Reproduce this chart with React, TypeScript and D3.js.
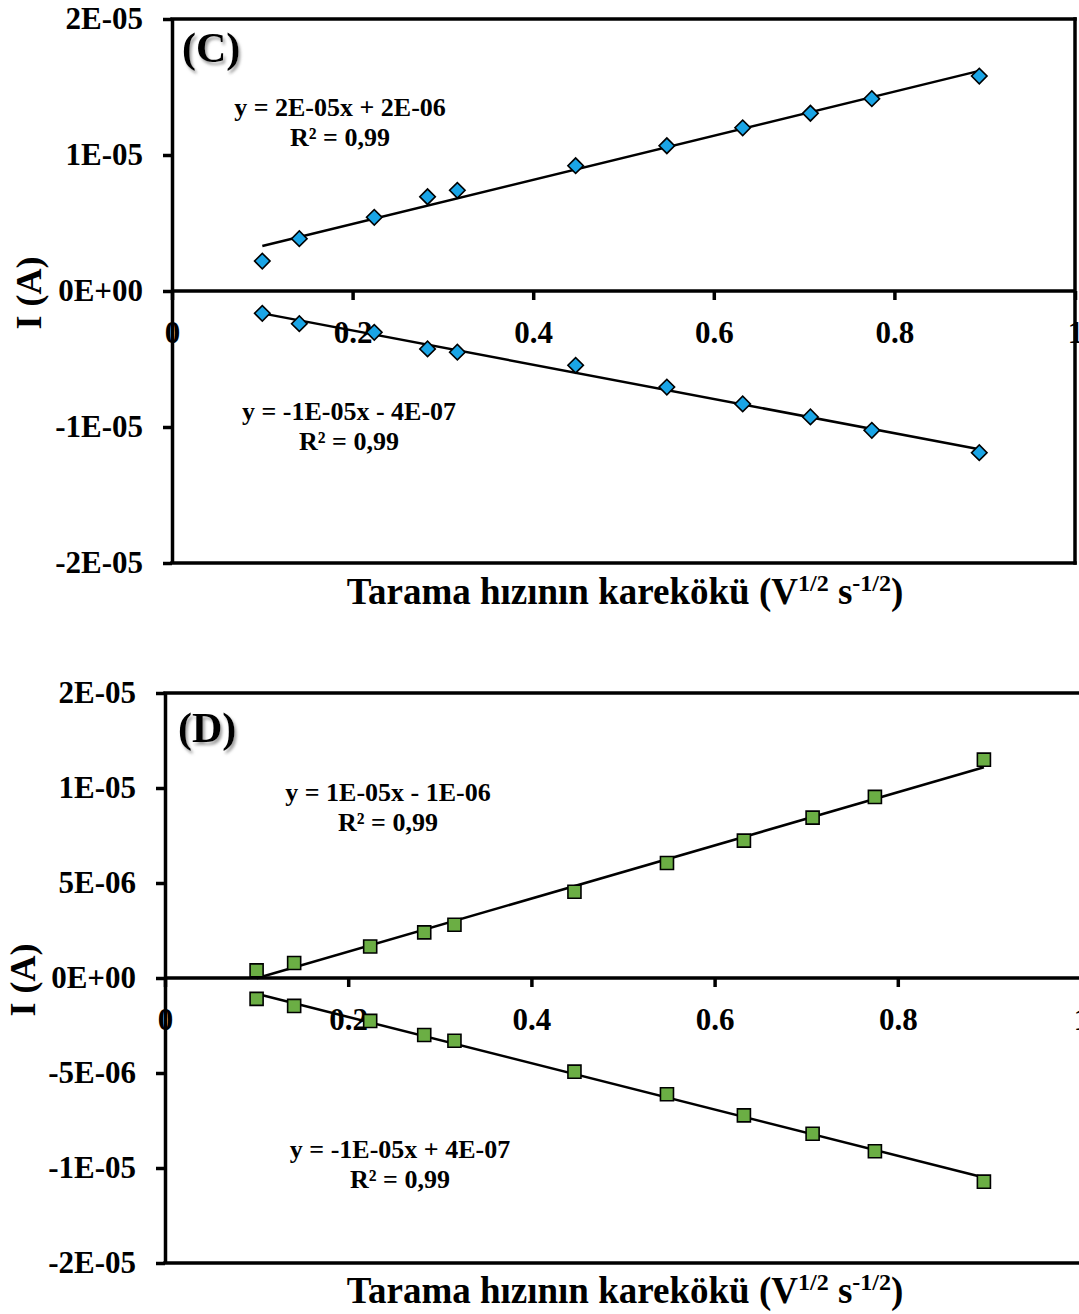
import React, { useEffect, useRef } from 'react';
import * as d3 from 'd3';

const W = 1079;
const H = 1314;
const FONT = "'Liberation Serif', 'Times New Roman', serif";

// square root of scan rate (V^1/2 s^-1/2)
const sqrtScanRate = [0.1, 0.141, 0.224, 0.283, 0.316, 0.447, 0.548, 0.632, 0.707, 0.775, 0.894];

// panel C, peak currents (A)
const cAnodic = [2.2e-6, 3.85e-6, 5.42e-6, 6.93e-6, 7.4e-6, 9.21e-6, 1.068e-5, 1.2e-5, 1.307e-5, 1.414e-5, 1.58e-5];
const cCathodic = [-1.64e-6, -2.4e-6, -3.04e-6, -4.26e-6, -4.5e-6, -5.46e-6, -7.06e-6, -8.3e-6, -9.26e-6, -1.024e-5, -1.189e-5];

// panel D, peak currents (A)
const dAnodic = [0.4e-6, 0.79e-6, 1.66e-6, 2.4e-6, 2.8e-6, 4.54e-6, 6.05e-6, 7.23e-6, 8.44e-6, 9.53e-6, 1.149e-5];
const dCathodic = [-1.1e-6, -1.47e-6, -2.26e-6, -3.0e-6, -3.3e-6, -4.93e-6, -6.12e-6, -7.23e-6, -8.2e-6, -9.12e-6, -1.072e-5];

const xTicks = [0, 0.2, 0.4, 0.6, 0.8, 1];
const xTickLabels = ['0', '0.2', '0.4', '0.6', '0.8', '1'];
const cYTicks = [-2e-5, -1e-5, 0, 1e-5, 2e-5];
const cYTickLabels = ['-2E-05', '-1E-05', '0E+00', '1E-05', '2E-05'];
const dYTicks = [-1.5e-5, -1e-5, -5e-6, 0, 5e-6, 1e-5, 1.5e-5];
const dYTickLabels = ['-2E-05', '-1E-05', '-5E-06', '0E+00', '5E-06', '1E-05', '2E-05'];

const cEquations = [['y = 2E-05x + 2E-06', 'R² = 0,99'], ['y = -1E-05x - 4E-07', 'R² = 0,99']];
const dEquations = [['y = 1E-05x - 1E-06', 'R² = 0,99'], ['y = -1E-05x + 4E-07', 'R² = 0,99']];

// least squares line, like the Excel trendline
function fit(xs: number[], ys: number[]) {
  const mx = d3.mean(xs) as number;
  const my = d3.mean(ys) as number;
  let sxy = 0, sxx = 0;
  xs.forEach((x, i) => { sxy += (x - mx) * (ys[i] - my); sxx += (x - mx) * (x - mx); });
  const m = sxy / sxx;
  return (x: number) => m * x + (my - m * mx);
}

const panels = [
  {
    name: '(C)', left: 172, right: 1075, top: 19, bottom: 563, frameRight: true,
    yDomain: [-2e-5, 2e-5], yTicks: cYTicks, yLabels: cYTickLabels,
    series: [cAnodic, cCathodic], marker: 'diamond', fill: '#1AA5E6',
    eqs: cEquations, eqPos: [[340, 116], [349, 420]],
    labelPos: [182, 62], yTitle: [28, 293], xTitleY: 604,
  },
  {
    name: '(D)', left: 165, right: 1081, top: 693, bottom: 1263, frameRight: false,
    yDomain: [-1.5e-5, 1.5e-5], yTicks: dYTicks, yLabels: dYTickLabels,
    series: [dAnodic, dCathodic], marker: 'square', fill: '#6BAE44',
    eqs: dEquations, eqPos: [[388, 801], [400, 1158]],
    labelPos: [178, 742], yTitle: [22, 980], xTitleY: 1303,
  },
];

export default function App() {
  const ref = useRef<SVGSVGElement>(null);

  useEffect(() => {
    const svg = d3.select(ref.current);
    svg.selectAll('*').remove();

    const defs = svg.append('defs');
    const f = defs.append('filter').attr('id', 'shadow').attr('x', '-20%').attr('y', '-20%').attr('width', '150%').attr('height', '150%');
    f.append('feDropShadow').attr('dx', 2).attr('dy', 3).attr('stdDeviation', 1.6)
      .attr('flood-color', '#777').attr('flood-opacity', 0.7);

    panels.forEach(p => {
      const x = d3.scaleLinear().domain([0, 1]).range([p.left, p.right]);
      const y = d3.scaleLinear().domain(p.yDomain).range([p.bottom, p.top]);
      const g = svg.append('g').attr('font-family', FONT).attr('font-weight', 'bold');
      const xEnd = Math.min(p.right, W);

      // frame
      const frame = g.append('g').attr('stroke', '#000').attr('stroke-width', 3.5).attr('stroke-linecap', 'square');
      frame.append('line').attr('x1', p.left).attr('x2', xEnd).attr('y1', p.top).attr('y2', p.top);
      frame.append('line').attr('x1', p.left).attr('x2', xEnd).attr('y1', p.bottom).attr('y2', p.bottom);
      if (p.frameRight) frame.append('line').attr('x1', p.right).attr('x2', p.right).attr('y1', p.top).attr('y2', p.bottom);

      // y axis
      const yAxis = g.append('g').attr('transform', `translate(${p.left},0)`)
        .call(d3.axisLeft(y).tickValues(p.yTicks).tickSize(9).tickSizeOuter(0).tickPadding(20)
          .tickFormat((_d, i) => p.yLabels[i]));
      yAxis.select('.domain').attr('stroke-width', 3.5);
      yAxis.selectAll('.tick line').attr('stroke-width', 3.5);
      yAxis.selectAll('.tick text').attr('font-size', 31).attr('font-family', FONT).attr('font-weight', 'bold').attr('fill', '#000');

      // x axis through zero
      const xAxis = g.append('g').attr('transform', `translate(0,${y(0)})`)
        .call(d3.axisBottom(x).tickValues(xTicks).tickSize(9).tickSizeOuter(0).tickPadding(21)
          .tickFormat((_d, i) => xTickLabels[i]));
      xAxis.select('.domain').remove();
      xAxis.selectAll('.tick line').attr('stroke-width', 3.5);
      xAxis.selectAll('.tick text').attr('font-size', 31).attr('font-family', FONT).attr('font-weight', 'bold').attr('fill', '#000');
      g.append('line').attr('x1', p.left).attr('x2', xEnd).attr('y1', y(0)).attr('y2', y(0))
        .attr('stroke', '#000').attr('stroke-width', 3.5);

      // trendlines
      const line = d3.line<number>().x(d => x(d[0])).y(d => y(d[1]));
      const x0 = d3.min(sqrtScanRate) as number;
      const x1 = d3.max(sqrtScanRate) as number;
      p.series.forEach(s => {
        const fn = fit(sqrtScanRate, s);
        g.append('path').attr('d', line([[x0, fn(x0)], [x1, fn(x1)]] as any))
          .attr('fill', 'none').attr('stroke', '#000').attr('stroke-width', 2.5);
      });

      // markers
      const sym = p.marker === 'diamond'
        ? d3.symbol().type(d3.symbolSquare).size(120)
        : d3.symbol().type(d3.symbolSquare).size(170);
      p.series.forEach(s => {
        g.append('g').selectAll('path').data(s).enter().append('path')
          .attr('d', sym as any)
          .attr('transform', (d, i) => `translate(${x(sqrtScanRate[i])},${y(d)})${p.marker === 'diamond' ? ' rotate(45)' : ''}`)
          .attr('fill', p.fill).attr('stroke', '#000').attr('stroke-width', 1.6);
      });

      // equations
      p.eqs.forEach((lines, k) => {
        const t = g.append('text').attr('text-anchor', 'middle').attr('font-size', 26);
        lines.forEach((s, j) => {
          t.append('tspan').attr('x', p.eqPos[k][0]).attr('y', p.eqPos[k][1] + j * 30).text(s);
        });
      });

      // panel label
      g.append('text').attr('x', p.labelPos[0]).attr('y', p.labelPos[1]).attr('font-size', 42)
        .attr('filter', 'url(#shadow)').text(p.name);

      // axis titles
      g.append('text').attr('transform', `translate(${p.yTitle[0]},${p.yTitle[1]}) rotate(-90)`)
        .attr('text-anchor', 'middle').attr('dy', '0.35em').attr('font-size', 36).text('I (A)');

      const xt = g.append('text').attr('x', 625).attr('y', p.xTitleY).attr('text-anchor', 'middle').attr('font-size', 37);
      xt.append('tspan').text('Tarama hızının karekökü (V');
      xt.append('tspan').attr('font-size', 24).attr('dy', -13).text('1/2');
      xt.append('tspan').attr('dy', 13).text(' s');
      xt.append('tspan').attr('font-size', 24).attr('dy', -13).text('-1/2');
      xt.append('tspan').attr('dy', 13).text(')');
    });
  }, []);

  return (
    <svg ref={ref} width={W} height={H}
      style={{ position: 'absolute', left: 0, top: 0, background: '#fff' }} />
  );
}
